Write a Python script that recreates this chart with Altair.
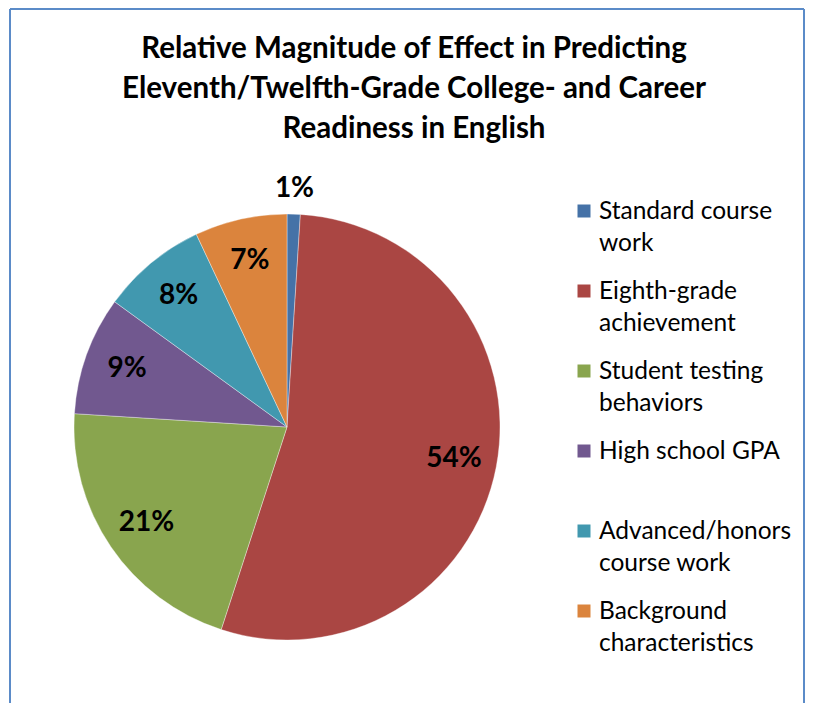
import altair as alt
import pandas as pd

categories = ["Standard course work", "Eighth-grade achievement", "Student testing behaviors",
              "High school GPA", "Advanced/honors course work", "Background characteristics"]
values = [1, 54, 21, 9, 8, 7]
pct_labels = ["1%", "54%", "21%", "9%", "8%", "7%"]
legend_text = ["Standard course\nwork", "Eighth-grade\nachievement", "Student testing\nbehaviors",
               "High school GPA", "Advanced/honors\ncourse work", "Background\ncharacteristics"]
colors = ["#4572A7", "#AA4643", "#89A54E", "#71588F", "#4198AF", "#DB843D"]
title_lines = ["Relative Magnitude of Effect in Predicting",
               "Eleventh/Twelfth-Grade College- and Career",
               "Readiness in English"]

df = pd.DataFrame({"category": categories, "value": values, "label": pct_labels,
                   "legend": legend_text, "idx": list(range(len(categories)))})

TOP = 150
W, H = 797, 695 - TOP
OX, OY = 8, 8 + TOP          # page position of the plot origin
CX, CY, R = 287 - OX, 427 - OY, 213
FONT = "Lato"
BORDER = "#5B8BC8"
total = sum(values)

color = alt.Color("category:N", scale=alt.Scale(domain=categories, range=colors), legend=None)
theta_scale = alt.Scale(domain=[0, total])

base = (alt.Chart(df)
        .transform_window(cum="sum(value)", sort=[alt.SortField("idx")], frame=[None, 0])
        .transform_calculate(start="datum.cum - datum.value", mid="datum.cum - datum.value / 2"))

pie = base.mark_arc(outerRadius=R, stroke="white", strokeWidth=0.6, strokeOpacity=0.6).encode(
    theta=alt.Theta("start:Q", scale=theta_scale),
    theta2="cum:Q",
    color=color,
    x=alt.value(CX), y=alt.value(CY),
)

inner_txt = base.transform_filter("datum.value >= 2").mark_text(
    radius=170, font=FONT, fontSize=28, fontWeight="bold", color="black"
).encode(theta=alt.Theta("mid:Q", scale=theta_scale), text="label:N",
         x=alt.value(CX), y=alt.value(CY))

outer_txt = base.transform_filter("datum.value < 2").mark_text(
    radius=238, font=FONT, fontSize=28, fontWeight="bold", color="black"
).encode(theta=alt.Theta("mid:Q", scale=theta_scale), text="label:N",
         x=alt.value(CX), y=alt.value(CY))

leg_y = alt.Y("category:N", sort=categories, axis=None,
              scale=alt.Scale(type="point", domain=categories, range=[211 - OY, 611 - OY], padding=0))

leg_sq = alt.Chart(df).mark_square(size=169, opacity=1).encode(
    x=alt.value(584 - OX), y=leg_y, color=color)

leg_txt = alt.Chart(df).mark_text(
    align="left", baseline="top", dy=-11, lineBreak="\n", lineHeight=32,
    font=FONT, fontSize=24.5, color="black"
).encode(x=alt.value(599 - OX), y=leg_y, text="legend:N")

frame_src = alt.Chart(alt.Data(values=[{}]))

title_txt = frame_src.mark_text(
    text="\n".join(title_lines), lineBreak="\n", lineHeight=40, align="center", baseline="top",
    font=FONT, fontSize=29.5, fontWeight="bold", color="black"
).encode(x=alt.value(414 - OX), y=alt.value(35 - OY))

top_y = 9 - OY
border_l = frame_src.mark_rule(color=BORDER, strokeWidth=2).encode(
    x=alt.value(10 - OX), y=alt.value(top_y), y2=alt.value(H))
border_t = frame_src.mark_rule(color=BORDER, strokeWidth=2).encode(
    x=alt.value(10 - OX), x2=alt.value(W - 1), y=alt.value(top_y))
border_r = frame_src.mark_rule(color=BORDER, strokeWidth=2).encode(
    x=alt.value(W - 1), y=alt.value(top_y), y2=alt.value(H))

chart = alt.layer(pie, inner_txt, outer_txt, leg_sq, leg_txt, title_txt,
                  border_l, border_t, border_r).properties(
    width=W, height=H,
    autosize=alt.AutoSizeParams(type="none"),
    padding={"left": 0, "top": TOP, "right": 0, "bottom": 0},
).configure(background="white").configure_view(stroke=None)

chart.save("out.html", embed_options={"renderer": "svg", "actions": False})
